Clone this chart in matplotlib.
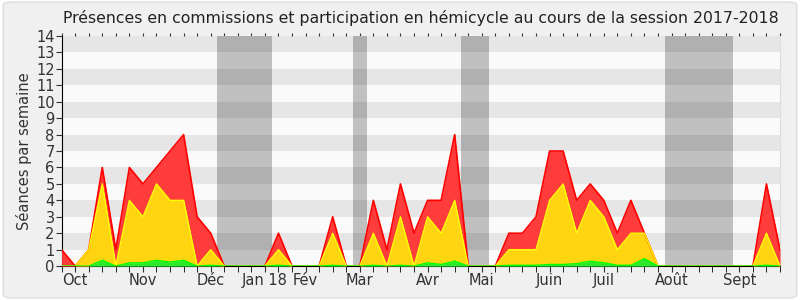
import matplotlib
matplotlib.use("Agg")
import matplotlib.pyplot as plt
from matplotlib.patches import FancyBboxPatch

# weekly values, session 2017-2018 (week index 0..53)
weeks = list(range(54))
hemicycle = [0, 0, 0, 0.35, 0, 0.2, 0.2, 0.35, 0.25, 0.35,
             0, 0.05, 0, 0, 0, 0, 0.05, 0, 0, 0,
             0.05, 0, 0, 0.05, 0, 0.05, 0, 0.2, 0.1, 0.3,
             0, 0, 0, 0.05, 0.05, 0.05, 0.1, 0.1, 0.15, 0.3,
             0.2, 0.05, 0.05, 0.45, 0, 0, 0, 0, 0, 0,
             0, 0, 0.05, 0]
commission_top = [0, 0, 1, 5, 0, 4, 3, 5, 4, 4,
                  0, 1, 0, 0, 0, 0, 1, 0, 0, 0,
                  2, 0, 0, 2, 0, 3, 0, 3, 2, 4,
                  0, 0, 0, 1, 1, 1, 4, 5, 2, 4,
                  3, 1, 2, 2, 0, 0, 0, 0, 0, 0,
                  0, 0, 2, 0]
total = [1, 0, 1, 6, 1, 6, 5, 6, 7, 8,
         3, 2, 0, 0, 0, 0, 2, 0, 0, 0,
         3, 0, 0, 4, 1, 5, 2, 4, 4, 8,
         0, 0, 0, 2, 2, 3, 7, 7, 4, 5,
         4, 2, 4, 2, 0, 0, 0, 0, 0, 0,
         0, 0, 5, 1]
vacations = [(11.5, 15.5), (21.5, 22.5), (29.5, 31.5), (44.5, 49.5)]
month_pos = [1, 6, 11, 15, 18, 22, 27, 31, 36, 40, 45, 50]
month_lab = ["Oct", "Nov", "Déc", "Jan 18", "Fév", "Mar", "Avr", "Mai",
             "Juin", "Juil", "Août", "Sept"]

fig = plt.figure(figsize=(8, 3), dpi=100, facecolor="white")
fig.patches.append(FancyBboxPatch((0.004, 0.007), 0.992, 0.986,
                                  boxstyle="round,pad=0,rounding_size=0.01",
                                  transform=fig.transFigure, facecolor="#f0f0f0",
                                  edgecolor="#dcdcdc", lw=1, zorder=-10))
ax = fig.add_axes([0.077, 0.113, 0.898, 0.767])
ax.set_facecolor("#fafafa")

for a, b in vacations:
    ax.axvspan(a, b, color="#c0c0c0", lw=0, zorder=1)
for k in range(1, 14, 2):
    ax.axhspan(k, k + 1, color="black", alpha=0.08, lw=0, zorder=2)

ax.fill_between(weeks, commission_top, total, color="#ff3c3c", lw=0, zorder=3)
ax.fill_between(weeks, hemicycle, commission_top, color="#ffd511", lw=0, zorder=4)
ax.fill_between(weeks, 0, hemicycle, color="#2ee82e", lw=0, zorder=5)
ax.plot(weeks, total, color="#ff0000", lw=1.2, zorder=6)
ax.plot(weeks, commission_top, color="#ffff00", lw=1, zorder=6)
ax.plot(weeks, hemicycle, color="#00ff00", lw=1, zorder=6)

ax.set_xlim(0, 53)
ax.set_ylim(0, 14)
ax.set_yticks(range(15))
ax.set_xticks(month_pos)
ax.set_xticklabels(month_lab)
ax.set_xticks(weeks, minor=True)
ax.tick_params(axis="both", labelsize=10.5, colors="#333333", length=4)
ax.tick_params(axis="x", which="both", direction="out", length=4, pad=1)
ax.tick_params(axis="y", pad=1)

# small weekly marks along the top edge
top = ax.secondary_xaxis("top")
top.set_xticks(weeks)
top.tick_params(length=2, labeltop=False, color="#333333")
top.spines["top"].set_visible(False)

for s in ("top", "right"):
    ax.spines[s].set_visible(False)
ax.spines["right"].set_visible(True)
ax.spines["right"].set_color("#dddddd")
ax.spines["left"].set_color("black")
ax.spines["bottom"].set_color("black")
ax.set_ylabel("Séances par semaine", fontsize=10.5, color="#333333", labelpad=3)
ax.set_title("Présences en commissions et participation en hémicycle au cours de la session 2017-2018",
             fontsize=11.3, color="#222222", pad=9)

fig.savefig("out.png", dpi=100)
